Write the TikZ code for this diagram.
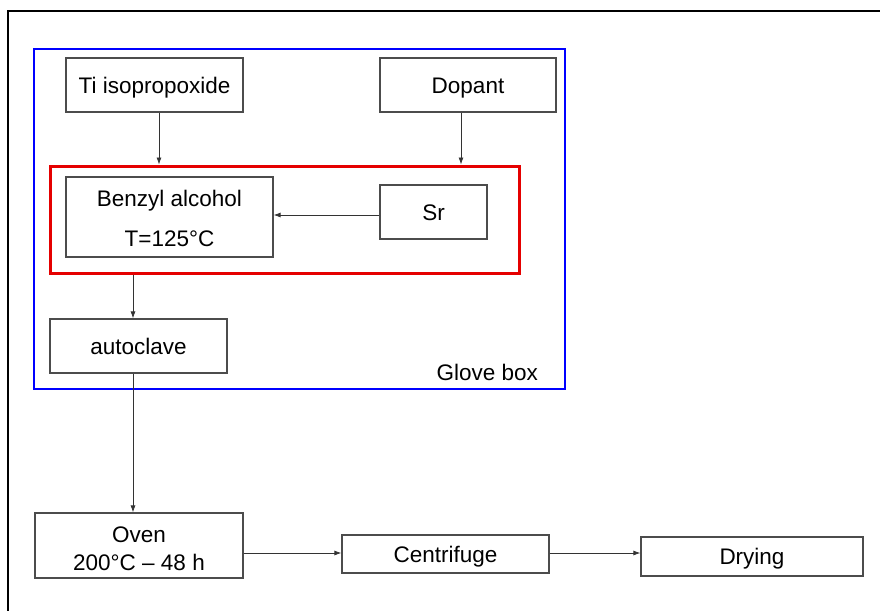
\documentclass[tikz,border=0pt]{standalone}
\usepackage{fontspec}
\setmainfont{Liberation Sans}
\usetikzlibrary{arrows.meta,calc}
\begin{document}
\begin{tikzpicture}[x=1pt,y=-1pt,
  every node/.style={font=\fontsize{22.5}{26}\selectfont},
  box/.style={draw=black!70,line width=1.2pt,fill=white,inner sep=0pt,align=center},
  oneline/.style={text height=16pt,text depth=0pt},
  arr/.style={draw=black!80,line width=0.8pt,-{Latex[length=7pt,width=5pt]}}]
\useasboundingbox (0,0) rectangle (880,610);
\fill[white] (0,0) rectangle (880,610);
% outer frame (top and left only visible)
\draw[line width=2.5pt,black] (8,616) -- (8,11) -- (886,11);
% glove box and red box
\node[draw=blue,line width=2.6pt,minimum width=531pt,minimum height=340pt,inner sep=0pt] (glove) at (299.5,219) {};
\node[draw=red!90!black,line width=3pt,minimum width=469pt,minimum height=107pt,inner sep=0pt] (red) at (284.5,219.5) {};
% nodes
\node[box,oneline,minimum width=177pt,minimum height=54pt] (ti) at (154.5,85) {Ti isopropoxide};
\node[box,oneline,minimum width=176pt,minimum height=54pt] (dop) at (468,85) {Dopant};
\node[box,minimum width=207pt,minimum height=80pt] (benz) at (169.5,217) {\rule{0pt}{19.4pt}Benzyl alcohol\\[14pt]T=125°C};
\node[box,oneline,minimum width=107pt,minimum height=54pt] (sr) at (433.5,212) {Sr};
\node[box,oneline,minimum width=177pt,minimum height=54pt] (auto) at (138.5,346) {autoclave};
\node[box,minimum width=208pt,minimum height=65pt] (oven) at (139,545.5) {\rule{0pt}{22.5pt}Oven\\[2pt]200°C – 48 h};
\node[box,oneline,minimum width=207pt,minimum height=38pt] (cent) at (445.5,554) {Centrifuge};
\node[box,oneline,minimum width=222pt,minimum height=39pt] (dry) at (752,556.5) {Drying};
\node[anchor=south east,inner sep=0pt] (gl) at (538,381) {Glove box};
% connectors
\draw[arr] ([xshift=4.5pt]ti.south) -- ([xshift=4.5pt]ti.south |- red.north);
\draw[arr] ([xshift=-7pt]dop.south) -- ([xshift=-7pt]dop.south |- red.north);
\draw[arr] ([yshift=-3pt]sr.west) -- ([yshift=-3pt]sr.west -| benz.east);
\draw[arr] ([xshift=-5.5pt]auto.north |- red.south) -- ([xshift=-5.5pt]auto.north);
\draw[arr] ([xshift=-5.5pt]auto.south) -- ([xshift=-5.5pt]auto.south |- oven.north);
\draw[arr] ([yshift=1pt]cent.west -| oven.east) -- ([yshift=1pt]cent.west);
\draw[arr] ([yshift=1pt]cent.east) -- ([yshift=1pt]cent.east -| dry.west);
\end{tikzpicture}
\end{document}
